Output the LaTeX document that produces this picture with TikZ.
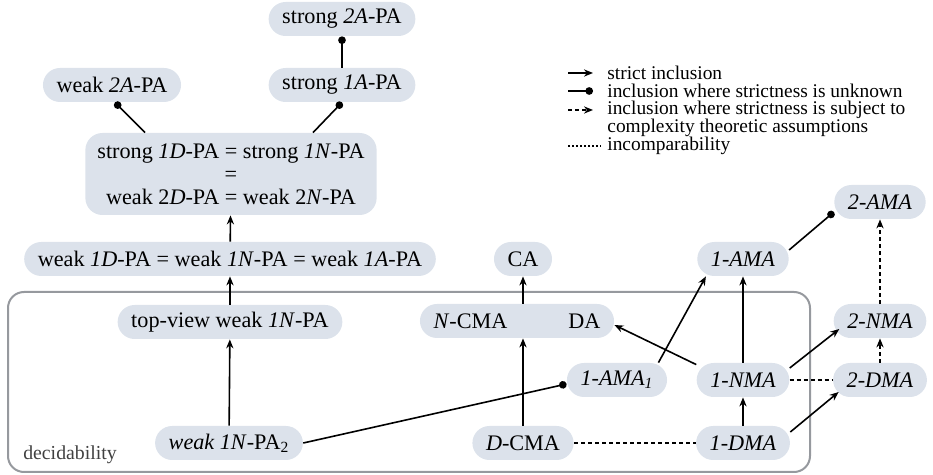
\documentclass[tikz,border=0pt]{standalone}
\usepackage{fontspec}
\setmainfont{Liberation Serif}
\usetikzlibrary{arrows.meta}
\definecolor{nodefill}{RGB}{220,226,235}
\definecolor{framegray}{RGB}{150,153,158}
\begin{document}
\begin{tikzpicture}[x=0.5pt,y=-0.5pt,
  every node/.style={font=\fontsize{11.1}{11}\selectfont},
  cls/.style={fill=nodefill, rounded corners=8.5pt, minimum height=17pt,
    inner xsep=6.8pt, inner ysep=2pt},
  arr/.style={line width=0.8pt, -{Stealth[length=4.5pt,width=3.6pt]}},
  dotarr/.style={line width=0.8pt, -{Circle[length=3.8pt]}},
  darr/.style={line width=0.8pt, dash pattern=on 2pt off 1.5pt,
    -{Stealth[length=4.5pt,width=3.6pt]}},
  incomp/.style={line width=0.8pt, dash pattern=on 2pt off 1.5pt},
  legend/.style={font=\fontsize{9.7}{10}\selectfont, anchor=west, inner sep=0pt}
]
\useasboundingbox (0,0) rectangle (933,475);

% decidability frame
\draw[framegray, line width=1pt, rounded corners=8pt] (8,292) rectangle (810,472);
\node[font=\fontsize{9.9}{10}\selectfont, text=black!75, inner sep=0pt] (declabel) at (70,455) {decidability};

% classes
\node[cls] (s2a) at (342,19) {strong \textit{2A}-PA};
\node[cls] (w2a) at (112,85) {weak \textit{2A}-PA};
\node[cls] (s1a) at (342,85) {strong \textit{1A}-PA};
\node[cls, align=center, minimum height=41pt, inner xsep=6pt,
  font=\fontsize{11.1}{11.6}\selectfont] (big) at (231,174)
  {strong \textit{1D}-PA = strong \textit{1N}-PA\\=\\weak 2\textit{D}-PA = weak 2\textit{N}-PA};
\node[cls] (w1d) at (230,259) {weak \textit{1D}-PA = weak \textit{1N}-PA = weak \textit{1A}-PA};
\node[cls] (ca) at (523,259) {CA};
\node[cls] (ama) at (743,259) {\textit{1-AMA}};
\node[cls] (ama2) at (880,202) {\textit{2-AMA}};
\node[cls] (top) at (230,322) {top-view weak \textit{1N}-PA};
\node[cls] (ncma) at (517,321) {\textit{N}-CMA\hspace{30.5pt}DA};
\node[cls] (nma2) at (880,321) {\textit{2-NMA}};
\node[cls] (ama1) at (617,380) {\textit{1-AMA\textsubscript{1}}};
\node[cls] (nma) at (743,380) {\textit{1-NMA}};
\node[cls] (dma2) at (880,380) {\textit{2-DMA}};
\node[cls] (wpa2) at (229,443) {\textit{weak 1N}-PA\textsubscript{2}};
\node[cls] (dcma) at (523,443) {\textit{D}-CMA};
\node[cls] (dma) at (743,443) {\textit{1-DMA}};

% relations
\draw[dotarr] (s1a) -- (s2a);
\draw[dotarr] ([xshift=-43pt]big.north) -- ([xshift=1.5pt]w2a.south);
\draw[dotarr] ([xshift=41pt]big.north) -- (s1a.south);
\draw[arr] (w1d) -- (big);
\draw[arr] (top) -- (w1d);
\draw[arr] (wpa2) -- (top);
\draw[dotarr] (wpa2.east) -- ([yshift=-2pt]ama1.west);
\draw[arr] (ncma.north -| ca) -- (ca);
\draw[arr] (dcma) -- (dcma |- ncma.south);
\draw[arr] ([xshift=-4.5pt]ama1.north east) -- ([xshift=4.5pt]ama.south west);
\draw[arr] ([yshift=-1pt]nma.north west) -- ([yshift=-2pt]ncma.east);
\draw[arr] (nma) -- (ama);
\draw[dotarr] ([yshift=4.5pt]ama.east) -- ([yshift=-5pt]ama2.west);
\draw[darr] (nma2) -- (ama2);
\draw[arr] ([yshift=6pt]nma.east) -- ([xshift=3pt,yshift=-4pt]nma2.west);
\draw[darr] (dma2) -- (nma2);
\draw[incomp] (nma) -- (dma2);
\draw[arr] (dma) -- (nma);
\draw[arr] ([yshift=5.5pt]dma.east) -- ([xshift=3pt,yshift=-6pt]dma2.west);
\draw[incomp] (dcma) -- (dma);

% legend
\node[legend] (lg1) at (607,73) {strict inclusion};
\node[legend] (lg2) at (607,91) {inclusion where strictness is unknown};
\node[legend] (lg3) at (607,110) {inclusion where strictness is subject to};
\node[legend] (lg3b) at (607,128) {complexity theoretic assumptions};
\node[legend] (lg4) at (607,146) {incomparability};
\draw[arr] ([xshift=-19.5pt]lg1.west) -- ([xshift=-7pt]lg1.west);
\draw[dotarr] ([xshift=-19.5pt]lg2.west) -- ([xshift=-7pt]lg2.west);
\draw[darr] ([xshift=-19.5pt]lg3.west) -- ([xshift=-7pt]lg3.west);
\draw[incomp, line width=0.6pt, dash pattern=on 1pt off 1pt] ([xshift=-19.5pt]lg4.west) -- ([xshift=-3pt]lg4.west);
\end{tikzpicture}
\end{document}
